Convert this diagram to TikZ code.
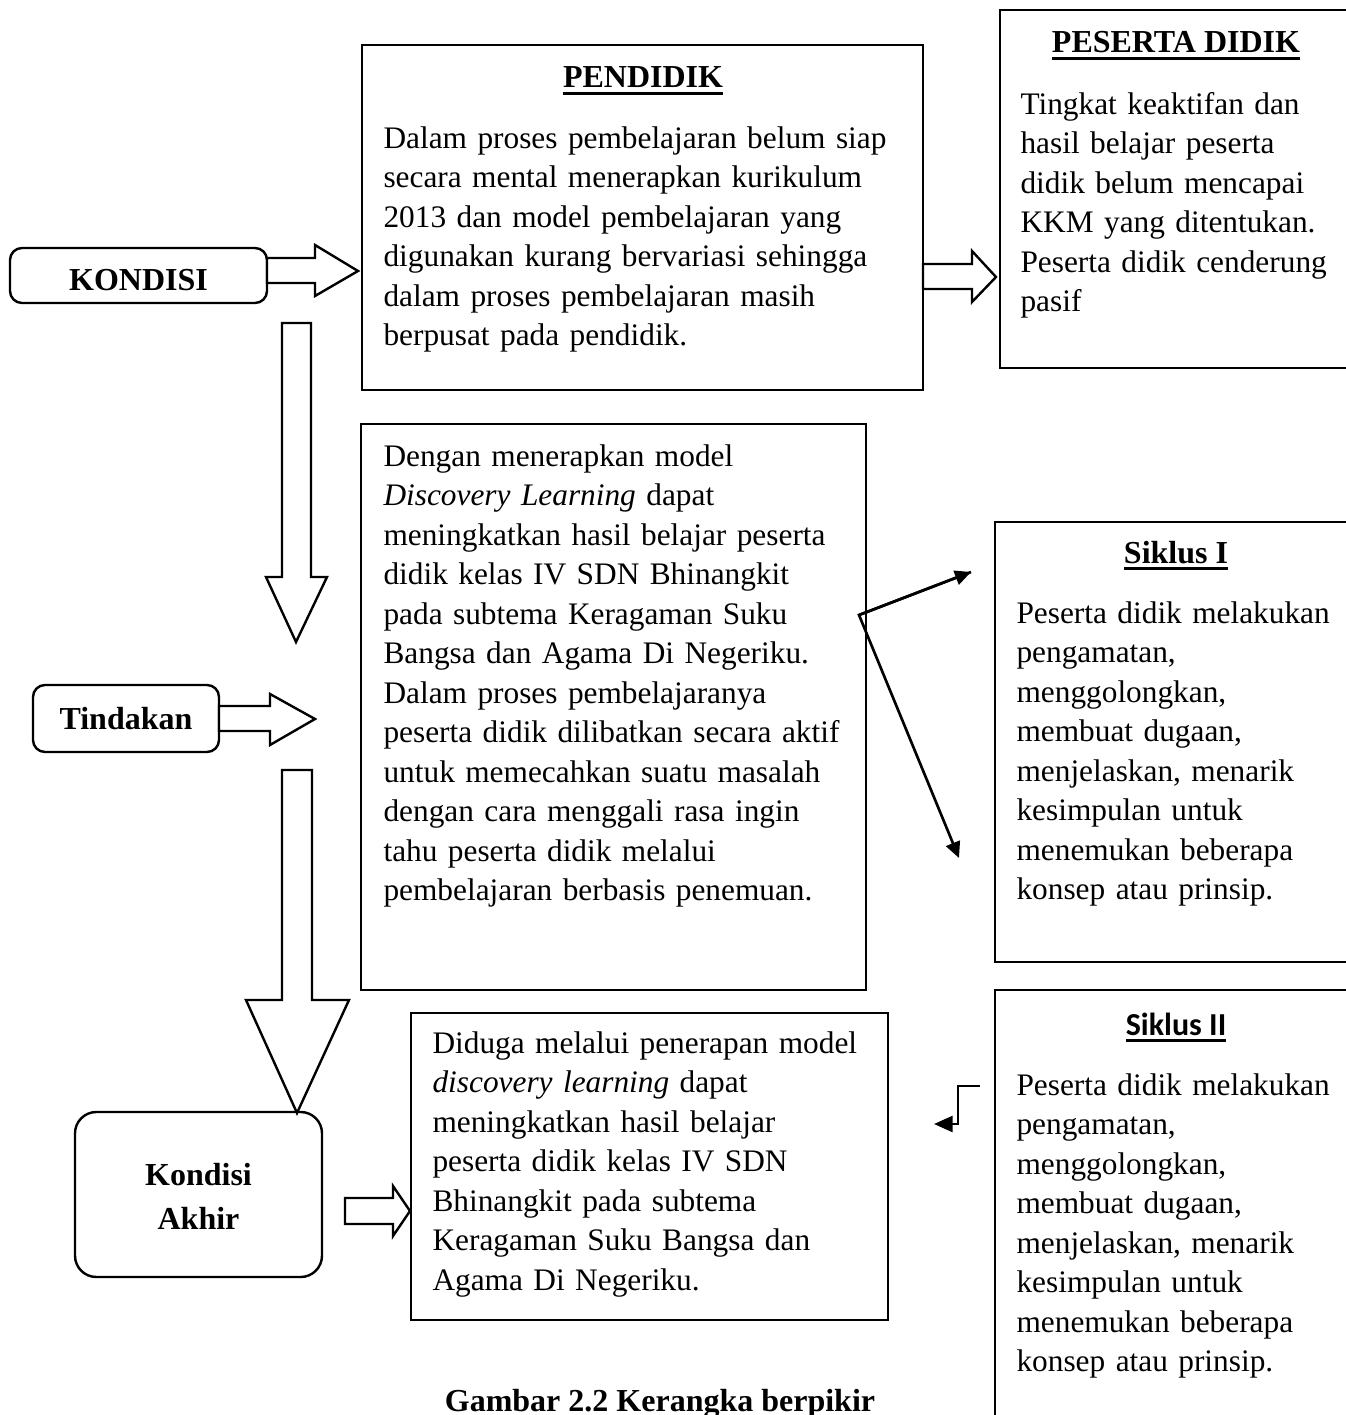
\documentclass[tikz,border=0pt]{standalone}
\usepackage{fontspec}
\setmainfont{Liberation Serif}
\newfontfamily\calibrifont{Carlito}
\usetikzlibrary{arrows.meta}

% heading text with a heavy underline
\newcommand\ulhead[1]{\setbox0\hbox{#1}\rlap{\usebox0}\rule[-2.6pt]{\wd0}{1.1pt}}

\begin{document}
\begin{tikzpicture}[x=0.375pt,y=-0.375pt,
  frame/.style={draw, line width=0.9pt, inner sep=0pt},
  roundframe/.style={frame, rounded corners=4.5pt, font=\fontsize{12}{14.8}\selectfont\bfseries, align=center},
  body/.style={anchor=base west, inner sep=0pt, text width=300pt, align=left,
               font=\fontsize{11.75}{14.8}\selectfont},
  heading/.style={anchor=base, inner sep=0pt, font=\fontsize{12}{14.8}\selectfont\bfseries},
  blockarrow/.style={draw, line width=0.9pt, fill=white, line join=miter},
  link/.style={line width=1pt, -{Triangle[length=6pt,width=5.5pt]}}
]
\useasboundingbox (0,0) rectangle (1346,1415);

% ---- frames ----
\node[roundframe, minimum width=257*0.375pt, minimum height=55*0.375pt,
      text height=11.6pt, text depth=0pt] (kondisi) at (138.5,275.5) {KONDISI};
\node[roundframe, minimum width=186*0.375pt, minimum height=67*0.375pt] (tindakan) at (126,718.5) {Tindakan};
\node[roundframe, rounded corners=8pt, minimum width=247*0.375pt, minimum height=165*0.375pt] (akhir) at (198.5,1194.5) {};
\node[inner sep=0pt, anchor=base, font=\fontsize{12}{14.8}\selectfont\bfseries] (akhirA) at (198.5,1185) {Kondisi};
\node[inner sep=0pt, anchor=base, font=\fontsize{12}{14.8}\selectfont\bfseries] (akhirB) at (198.5,1229) {Akhir};

\node[frame, minimum width=561*0.375pt, minimum height=345*0.375pt] (pendidik) at (642.5,217.5) {};
\node[frame, minimum width=380*0.375pt, minimum height=358*0.375pt] (peserta) at (1190,189) {};
\node[frame, minimum width=505*0.375pt, minimum height=566*0.375pt] (tindak) at (613.5,707) {};
\node[frame, minimum width=385*0.375pt, minimum height=440*0.375pt] (siklus1) at (1187.5,742) {};
\node[frame, minimum width=385*0.375pt, minimum height=460*0.375pt] (siklus2) at (1187.5,1220) {};
\node[frame, minimum width=477*0.375pt, minimum height=307*0.375pt] (hasil) at (649.5,1166.5) {};

% ---- headings ----
\node[heading] (pendidikH) at (643,88) {\ulhead{PENDIDIK}};
\node[heading] (pesertaH) at (1176,53) {\ulhead{PESERTA DIDIK}};
\node[heading] (siklus1H) at (1176,563) {\ulhead{Siklus I}};
\node[heading, font=\fontsize{12}{14.8}\calibrifont\bfseries] (siklus2H) at (1176,1035) {\ulhead{Siklus II}};

% ---- texts ----
\node[body] (pendidikT) at (383,148.5) {Dalam proses pembelajaran belum siap\\
secara mental menerapkan kurikulum\\
2013 dan model pembelajaran yang\\
digunakan kurang bervariasi sehingga\\
dalam proses pembelajaran masih\\
berpusat pada pendidik.};

\node[body] (pesertaT) at (1020,114.5) {Tingkat keaktifan dan\\
hasil belajar peserta\\
didik belum mencapai\\
KKM yang ditentukan.\\
Peserta didik cenderung\\
pasif};

\node[body] (tindakT) at (383,466.5) {Dengan menerapkan model\\
\textit{Discovery Learning} dapat\\
meningkatkan hasil belajar peserta\\
didik kelas IV SDN Bhinangkit\\
pada subtema Keragaman Suku\\
Bangsa dan Agama Di Negeriku.\\
Dalam proses pembelajaranya\\
peserta didik dilibatkan secara aktif\\
untuk memecahkan suatu masalah\\
dengan cara menggali rasa ingin\\
tahu peserta didik melalui\\
pembelajaran berbasis penemuan.};

\node[body] (siklus1T) at (1016,623.5) {Peserta didik melakukan\\
pengamatan,\\
menggolongkan,\\
membuat dugaan,\\
menjelaskan, menarik\\
kesimpulan untuk\\
menemukan beberapa\\
konsep atau prinsip.};

\node[body] (siklus2T) at (1016,1095.5) {Peserta didik melakukan\\
pengamatan,\\
menggolongkan,\\
membuat dugaan,\\
menjelaskan, menarik\\
kesimpulan untuk\\
menemukan beberapa\\
konsep atau prinsip.};

\node[body] (hasilT) at (432,1053.5) {Diduga melalui penerapan model\\
\textit{discovery learning} dapat\\
meningkatkan hasil belajar\\
peserta didik kelas IV SDN\\
Bhinangkit pada subtema\\
Keragaman Suku Bangsa dan\\
Agama Di Negeriku.};

\node[heading] (caption) at (660,1411) {Gambar 2.2 Kerangka berpikir};

% ---- hollow block arrows ----
\draw[blockarrow] (267,258) -- (315,258) -- (315,245) -- (358,271) -- (315,296) -- (315,283) -- (267,283) -- cycle;
\draw[blockarrow] (923,264) -- (972,264) -- (972,251) -- (996,277) -- (972,302) -- (972,289) -- (923,289) -- cycle;
\draw[blockarrow] (282,323) -- (311,323) -- (311,577) -- (327,577) -- (296,642) -- (266,577) -- (282,577) -- cycle;
\draw[blockarrow] (219,706) -- (270,706) -- (270,694) -- (315,719) -- (270,745) -- (270,731) -- (219,731) -- cycle;
\draw[blockarrow] (282,770) -- (312,770) -- (312,1000) -- (349,1000) -- (297,1113) -- (246,1000) -- (282,1000) -- cycle;
\draw[blockarrow] (345,1198) -- (393,1198) -- (393,1186) -- (410,1211) -- (393,1236) -- (393,1224) -- (345,1224) -- cycle;

% ---- thin arrows ----
\coordinate (fork) at (859,615);
\coordinate (toS1) at (971,572);
\coordinate (toS2) at (959,858);
\draw[link, line join=miter] (toS1) -- (fork) -- (toS2);
\draw[link] (fork) -- (toS1);

\coordinate (bendStart) at (980,1086);
\coordinate (bendMid) at (958,1086);
\coordinate (bendEnd) at (934,1124);
\draw[link, -{Triangle[length=7pt,width=6pt]}] (bendStart) -- (bendMid) |- (bendEnd);
\end{tikzpicture}
\end{document}
